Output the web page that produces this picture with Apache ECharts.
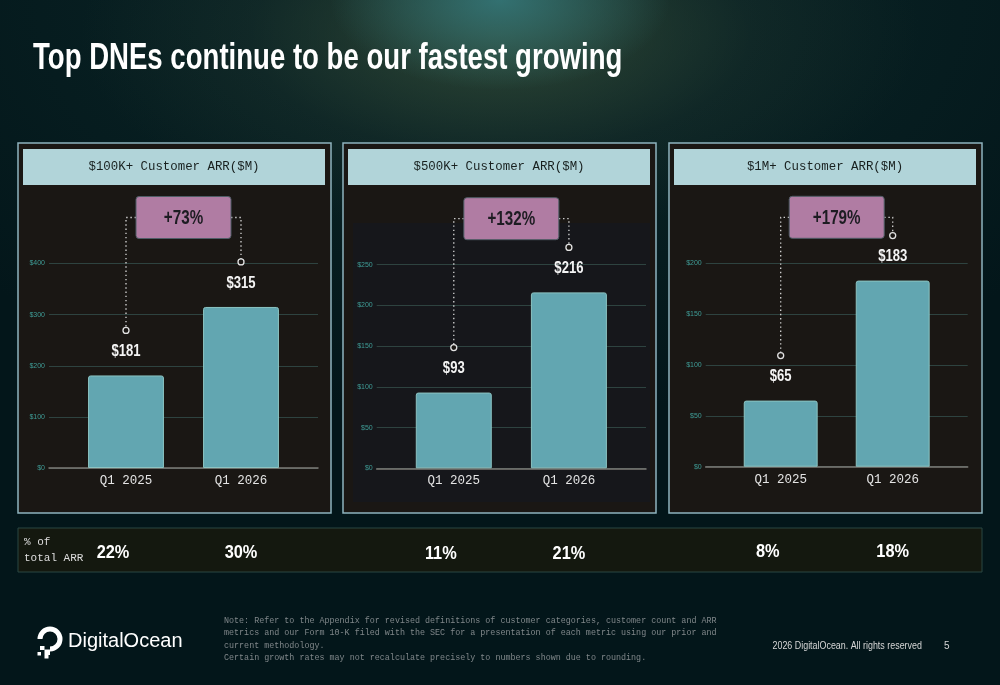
<!DOCTYPE html>
<html>
<head>
<meta charset="utf-8">
<title>Top DNEs continue to be our fastest growing</title>
<script src="https://cdn.jsdelivr.net/npm/echarts@6/dist/echarts.min.js"></script>
<style>
  html, body { margin: 0; padding: 0; }
  body {
    width: 1000px; height: 685px; overflow: hidden;
    background:
      radial-gradient(ellipse 170px 90px at 50% 0%, rgba(52,118,120,0.9), rgba(52,118,120,0) 100%),
      radial-gradient(ellipse 420px 200px at 50% 5%, rgba(58,82,58,0.75), rgba(40,60,50,0.25) 60%, rgba(0,0,0,0) 100%),
      radial-gradient(ellipse 700px 420px at 50% 0%, rgba(14,44,44,0.8), rgba(0,0,0,0) 100%),
      #03161a;
  }
  #main { width: 1000px; height: 685px; }
</style>
</head>
<body>
<div id="main"></div>
<script type="text/javascript">
// data
var categories = ['Q1 2025', 'Q1 2026'];
var panelTitles = ['$100K+ Customer ARR($M)', '$500K+ Customer ARR($M)', '$1M+ Customer ARR($M)'];
var arr100k = [181, 315];
var arr500k = [93, 216];
var arr1m = [65, 183];
var growthLabels = ['+73%', '+132%', '+179%'];
var pct100k = ['22%', '30%'];
var pct500k = ['11%', '21%'];
var pct1m = ['8%', '18%'];
var yMax = [400, 250, 200];
var yStep = [100, 50, 50];

var seriesValues = [arr100k, arr500k, arr1m];
var pctValues = [pct100k, pct500k, pct1m];

// layout of the three panels (pixels)
var panelX = [18, 343, 669];
var frames = [
    {left: 49, width: 269, top: 263.5, height: 204.5},
    {left: 376.7, width: 269.3, top: 264.7, height: 203.6},
    {left: 705.7, width: 262, top: 263.3, height: 203.4}
];

// the slide is squeezed sideways, so bold texts get a horizontal scale
var SANS = '"Liberation Sans", Arial, sans-serif';
var MONO = '"Liberation Mono", "DejaVu Sans Mono", monospace';
var PANEL_BG = '#1a1714';

var myChart = echarts.init(document.getElementById('main'), null, {renderer: 'canvas'});

var grids = [], xAxes = [], yAxes = [], series = [], graphics = [];

function squeezedText(x, y, text, font, fill, sx) {
    return {type: 'text', x: x, y: y, scaleX: sx,
        style: {x: 0, y: 0, text: text, align: 'center', verticalAlign: 'middle', fill: fill, font: font}};
}

for (var i = 0; i < 3; i++) {
    var f = frames[i];
    var inset = f.width * 0.0725;
    // frame grid: gridlines, y labels, base line
    grids.push({left: f.left, top: f.top, width: f.width, height: f.height, containLabel: false});
    // bar grid, a bit narrower so the bars sit like the slide
    grids.push({left: f.left + inset, top: f.top, width: f.width - 2 * inset, height: f.height, containLabel: false});

    xAxes.push({
        gridIndex: 2 * i, type: 'value', min: 0, max: 1,
        axisLine: {show: true, onZero: false, lineStyle: {color: '#7e7c77', width: 1.5}},
        axisTick: {show: false}, axisLabel: {show: false}, splitLine: {show: false}
    });
    xAxes.push({
        gridIndex: 2 * i + 1, type: 'category', data: categories,
        axisLine: {show: false}, axisTick: {show: false},
        axisLabel: {color: '#e4e4e4', fontSize: 12.5, fontFamily: MONO, margin: 6}
    });
    yAxes.push({
        gridIndex: 2 * i, type: 'value', min: 0, max: yMax[i], interval: yStep[i],
        axisLine: {show: false}, axisTick: {show: false},
        axisLabel: {formatter: '${value}', color: '#3f9d97', fontSize: 7, margin: 4, fontFamily: SANS},
        splitLine: {lineStyle: {color: '#2e4340', width: 1}}
    });
    yAxes.push({
        gridIndex: 2 * i + 1, type: 'value', min: 0, max: yMax[i], show: false
    });

    series.push({
        type: 'bar', xAxisIndex: 2 * i + 1, yAxisIndex: 2 * i + 1,
        data: seriesValues[i], barWidth: '66%',
        itemStyle: {color: '#62a6b1', borderColor: '#8cc4c2', borderWidth: 1, borderRadius: [2, 2, 0, 0]},
        z: 3
    });

    // value labels, dotted bracket, growth badge and % of total row, placed from the bar values
    (function (idx) {
        series.push({
            type: 'custom', xAxisIndex: 2 * idx + 1, yAxisIndex: 2 * idx + 1,
            data: [[0, seriesValues[idx][0], 1, seriesValues[idx][1]]],
            encode: {x: [0, 2], y: [1, 3]},
            silent: true, z: 5,
            renderItem: function (params, api) {
                var cs = params.coordSys;
                var p0 = api.coord([api.value(0), api.value(1)]);
                var p1 = api.coord([api.value(2), api.value(3)]);
                var r = 3;
                var c0y = p0[1] - 45, c1y = p1[1] - 45;
                var boxW = 95, boxH = 42;
                var midX = (p0[0] + p1[0]) / 2;
                var boxL = midX - boxW / 2, boxR = midX + boxW / 2;
                var boxTop = cs.y - 67;
                var lineY = boxTop + boxH / 2;
                var dot = {stroke: '#d6d6d6', lineWidth: 1.3, lineDash: [1.4, 2.8], fill: null};
                var bottomY = cs.y + cs.height + 85;
                var bold17 = 'bold 17px ' + SANS, bold20 = 'bold 20px ' + SANS, bold19 = 'bold 19px ' + SANS;
                return {
                    type: 'group',
                    children: [
                        {type: 'polyline', shape: {points: [[boxL, lineY], [p0[0], lineY], [p0[0], c0y - r]]}, style: dot},
                        {type: 'polyline', shape: {points: [[boxR, lineY], [p1[0], lineY], [p1[0], c1y - r]]}, style: dot},
                        {type: 'circle', shape: {cx: p0[0], cy: c0y, r: r}, style: {fill: PANEL_BG, stroke: '#e2e2e2', lineWidth: 1.3}},
                        {type: 'circle', shape: {cx: p1[0], cy: c1y, r: r}, style: {fill: PANEL_BG, stroke: '#e2e2e2', lineWidth: 1.3}},
                        {type: 'rect', shape: {x: boxL, y: boxTop, width: boxW, height: boxH, r: 3},
                            style: {fill: '#b07ca3', stroke: '#4f5d66', lineWidth: 1}},
                        squeezedText(midX, lineY + 1, growthLabels[idx], bold20, '#1d1c22', 0.76),
                        squeezedText(p0[0], p0[1] - 24, '$' + api.value(1), bold17, '#f4f4f4', 0.77),
                        squeezedText(p1[0], p1[1] - 24, '$' + api.value(3), bold17, '#f4f4f4', 0.77),
                        squeezedText(p0[0] - 13, bottomY, pctValues[idx][0], bold19, '#ffffff', 0.86),
                        squeezedText(p1[0], bottomY, pctValues[idx][1], bold19, '#ffffff', 0.86)
                    ]
                };
            }
        });
    })(i);

    // panel box + header
    graphics.push({type: 'rect', z: -10, shape: {x: panelX[i], y: 143, width: 313, height: 370},
        style: {fill: PANEL_BG, stroke: '#8fb4bf', lineWidth: 1.5}});
    graphics.push({type: 'rect', z: -9, shape: {x: panelX[i] + 5, y: 149, width: 302, height: 36},
        style: {fill: '#b1d4d9'}});
    graphics.push({type: 'text', z: -8, style: {x: panelX[i] + 156, y: 167, text: panelTitles[i], align: 'center',
        verticalAlign: 'middle', fill: '#18201f', font: '12.4px ' + MONO}});
}

// subtle inner panel behind the middle chart
graphics.push({type: 'rect', z: -9, shape: {x: 353, y: 223, width: 297, height: 279}, style: {fill: '#16171b'}});

// title
graphics.push({type: 'text', x: 33, y: 59, scaleX: 0.766, style: {x: 0, y: 0, text: 'Top DNEs continue to be our fastest growing',
    fill: '#ffffff', font: 'bold 36px ' + SANS, verticalAlign: 'middle'}});

// % of total ARR strip
graphics.push({type: 'rect', z: -10, shape: {x: 18, y: 528, width: 964, height: 44},
    style: {fill: '#14180f', stroke: '#2a4642', lineWidth: 1}});
graphics.push({type: 'text', style: {x: 24, y: 534, text: '% of\ntotal ARR', fill: '#dedede',
    font: '11px ' + MONO, lineHeight: 16}});

// footer
graphics.push({type: 'text', style: {x: 224, y: 614.5, text:
    'Note: Refer to the Appendix for revised definitions of customer categories, customer count and ARR\n' +
    'metrics and our Form 10-K filed with the SEC for a presentation of each metric using our prior and\n' +
    'current methodology.\n' +
    'Certain growth rates may not recalculate precisely to numbers shown due to rounding.',
    fill: '#80878a', font: '8.4px ' + MONO, lineHeight: 12.5}});
graphics.push({type: 'text', x: 772.5, y: 646, scaleX: 0.89, style: {x: 0, y: 0, text: '2026 DigitalOcean. All rights reserved',
    fill: '#d6d6d6', font: '10px ' + SANS, verticalAlign: 'middle'}});
graphics.push({type: 'text', style: {x: 944, y: 646, text: '5', fill: '#d6d6d6', font: '10px ' + SANS, verticalAlign: 'middle'}});

// logo
graphics.push({type: 'arc', shape: {cx: 50, cy: 639, r: 10, startAngle: Math.PI, endAngle: Math.PI * 2.5, clockwise: true},
    style: {stroke: '#ffffff', lineWidth: 5, fill: null}});
graphics.push({type: 'rect', shape: {x: 44.5, y: 649.5, width: 5.5, height: 5.5}, style: {fill: '#ffffff'}});
graphics.push({type: 'rect', shape: {x: 44.5, y: 655, width: 4, height: 3.5}, style: {fill: '#ffffff'}});
graphics.push({type: 'rect', shape: {x: 40, y: 646, width: 4.5, height: 4}, style: {fill: '#ffffff'}});
graphics.push({type: 'rect', shape: {x: 37.5, y: 652, width: 3.5, height: 3.5}, style: {fill: '#ffffff'}});
graphics.push({type: 'text', style: {x: 68, y: 641, text: 'DigitalOcean', fill: '#ffffff',
    font: '20px ' + SANS, verticalAlign: 'middle'}});

var option = {
    backgroundColor: 'transparent',
    animation: false,
    grid: grids,
    xAxis: xAxes,
    yAxis: yAxes,
    series: series,
    graphic: {elements: graphics}
};
myChart.setOption(option);
</script>
</body>
</html>
